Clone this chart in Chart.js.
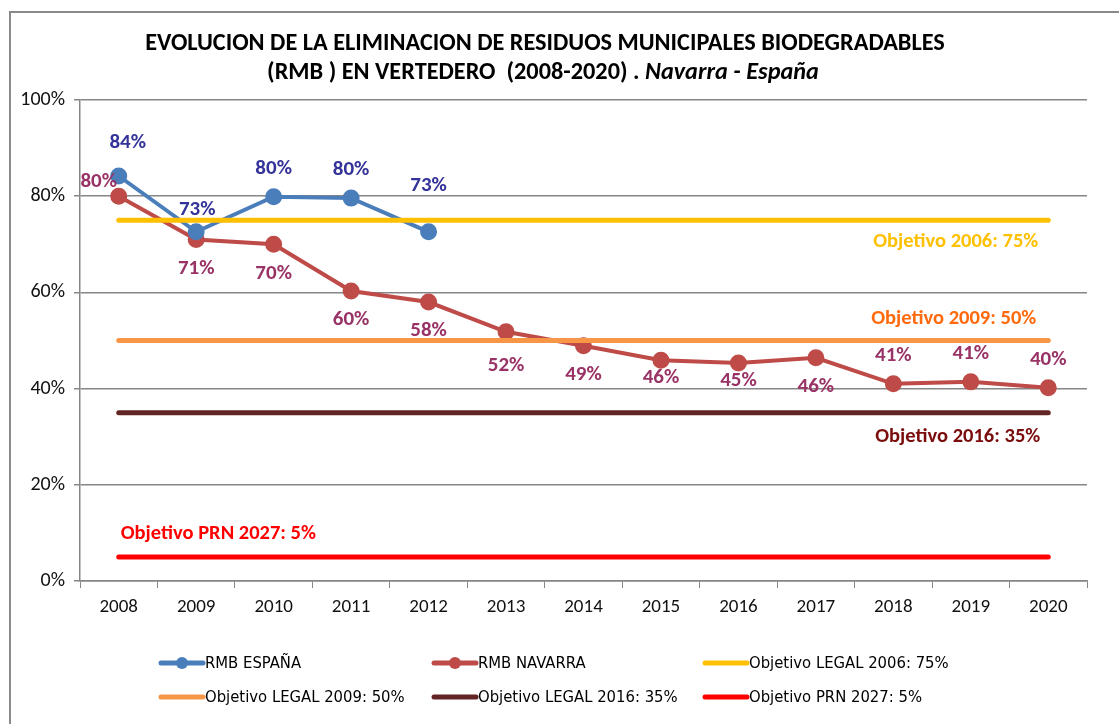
<!DOCTYPE html>
<html>
<head>
<meta charset="utf-8">
<script src="https://cdn.jsdelivr.net/npm/chart.js@4.4.1/dist/chart.umd.min.js"></script>
<style>
  html, body { margin: 0; padding: 0; background: #fff; }
  #wrap { position: relative; width: 1119px; height: 724px; overflow: hidden; }
  #frame { position: absolute; left: 9px; top: 11px; width: 1200px; height: 800px; border: 2px solid #8a8a8a; }
  #chart { position: absolute; left: 0; top: 0; }
</style>
</head>
<body>
<div id="wrap">
  <div id="frame"></div>
  <canvas id="chart" width="1119" height="724"></canvas>
</div>
<script>
// Data (percent of RMB sent to landfill)
const years = ['2008', '2009', '2010', '2011', '2012', '2013', '2014', '2015', '2016', '2017', '2018', '2019', '2020'];
const rmbEspana = [84.2, 72.6, 79.9, 79.6, 72.6, null, null, null, null, null, null, null, null];
const rmbNavarra = [80.0, 71.0, 70.0, 60.3, 58.0, 51.8, 48.9, 45.9, 45.3, 46.4, 41.0, 41.4, 40.2];
const objetivo2006 = [75, 75, 75, 75, 75, 75, 75, 75, 75, 75, 75, 75, 75];
const objetivo2009 = [50, 50, 50, 50, 50, 50, 50, 50, 50, 50, 50, 50, 50];
const objetivo2016 = [35, 35, 35, 35, 35, 35, 35, 35, 35, 35, 35, 35, 35];
const objetivoPrn2027 = [5, 5, 5, 5, 5, 5, 5, 5, 5, 5, 5, 5, 5];
const yTicks = [0, 20, 40, 60, 80, 100];

// where each value label sits relative to its point
const espanaLabelPos = ['aboveRight', 'aboveNear', 'above', 'above', 'high'];
const navarraLabelPos = ['left', 'below', 'below', 'below', 'below', 'belowFar', 'below', 'belowNear', 'belowNear', 'below', 'above', 'above', 'above'];

const FONT_FAMILY = 'Carlito, Lato, "Open Sans", sans-serif';
const LABEL_FONT = 'bold 21px ' + FONT_FAMILY;
const CAPTION_FONT = 'bold 20.5px ' + FONT_FAMILY;
const LEGEND_FONT = '16.5px "Liberation Sans Narrow", "DejaVu Sans Condensed", "Liberation Sans", sans-serif';

const offsets = {
  above: [0, -28], aboveNear: [1, -22], aboveRight: [9, -33], high: [0, -46],
  below: [0, 29], belowFar: [0, 34], belowNear: [0, 18], left: [-20, -14]
};

// value labels for the two RMB series
const valueLabels = {
  id: 'valueLabels',
  afterDatasetsDraw(chart) {
    const ctx = chart.ctx;
    ctx.save();
    ctx.font = LABEL_FONT;
    ctx.textAlign = 'center';
    ctx.textBaseline = 'middle';
    chart.data.datasets.forEach((ds, i) => {
      if (!ds.labelPos) return;
      const meta = chart.getDatasetMeta(i);
      ctx.fillStyle = ds.labelColor;
      meta.data.forEach((pt, j) => {
        const v = ds.data[j];
        if (v === null || v === undefined) return;
        const off = offsets[ds.labelPos[j]] || offsets.above;
        ctx.fillText(Math.round(v) + '%', pt.x + off[0], pt.y + off[1]);
      });
    });
    ctx.restore();
  }
};

// captions for the target lines
const targetCaptions = {
  id: 'targetCaptions',
  afterDatasetsDraw(chart) {
    const ctx = chart.ctx;
    const x = chart.scales.x, y = chart.scales.y;
    ctx.save();
    ctx.font = CAPTION_FONT;
    ctx.textBaseline = 'middle';
    chart.data.datasets.forEach(ds => {
      if (!ds.caption) return;
      const c = ds.caption;
      const px = x.getPixelForValue(c.index) + c.dx;
      const py = y.getPixelForValue(ds.data[c.index]) + c.dy;
      ctx.fillStyle = c.color;
      ctx.textAlign = c.align;
      ctx.fillText(c.text, px, py);
    });
    ctx.restore();
  }
};

// two-line title with the italic tail
const titlePlugin = {
  id: 'twoLineTitle',
  afterDraw(chart) {
    const ctx = chart.ctx;
    const line1 = 'EVOLUCION DE LA ELIMINACION DE RESIDUOS MUNICIPALES BIODEGRADABLES';
    const line2a = '(RMB ) EN VERTEDERO  (2008-2020) . ';
    const line2b = 'Navarra - España';
    ctx.save();
    let size = 19;
    ctx.font = 'bold ' + size + 'px ' + FONT_FAMILY;
    const w = ctx.measureText(line1).width;
    size = size * 800 / w;
    ctx.font = 'bold ' + size + 'px ' + FONT_FAMILY;
    ctx.fillStyle = '#000';
    ctx.textBaseline = 'middle';
    ctx.textAlign = 'center';
    ctx.fillText(line1, 545, 44);
    const wa = ctx.measureText(line2a).width;
    ctx.font = 'italic bold ' + size + 'px ' + FONT_FAMILY;
    const wb = ctx.measureText(line2b).width;
    const start = 543 - (wa + wb) / 2;
    ctx.textAlign = 'left';
    ctx.font = 'bold ' + size + 'px ' + FONT_FAMILY;
    ctx.fillText(line2a, start, 73);
    ctx.font = 'italic bold ' + size + 'px ' + FONT_FAMILY;
    ctx.fillText(line2b, start + wa, 73);
    ctx.restore();
  }
};

// legend laid out in three columns like the original
const gridLegend = {
  id: 'gridLegend',
  afterDraw(chart) {
    const ctx = chart.ctx;
    const cols = [159, 432, 703];
    const rows = [663, 697];
    ctx.save();
    ctx.font = LEGEND_FONT;
    ctx.textBaseline = 'middle';
    ctx.textAlign = 'left';
    chart.data.datasets.forEach((ds, i) => {
      const x0 = cols[i % 3], yy = rows[Math.floor(i / 3)];
      ctx.strokeStyle = ds.borderColor;
      ctx.lineWidth = 5;
      ctx.lineCap = 'round';
      ctx.beginPath();
      ctx.moveTo(x0 + 2, yy);
      ctx.lineTo(x0 + 44, yy);
      ctx.stroke();
      if (ds.pointRadius > 0) {
        ctx.fillStyle = ds.pointBackgroundColor;
        ctx.beginPath();
        ctx.arc(x0 + 23, yy, 6, 0, Math.PI * 2);
        ctx.fill();
      }
      ctx.fillStyle = '#000';
      ctx.fillText(ds.label, x0 + 46, yy + 1);
    });
    ctx.restore();
  }
};

function targetLine(label, data, color, caption) {
  return {
    label: label,
    data: data,
    borderColor: color,
    backgroundColor: color,
    borderWidth: 5,
    borderCapStyle: 'round',
    pointRadius: 0,
    pointHoverRadius: 0,
    fill: false,
    order: 0,
    caption: caption
  };
}

new Chart(document.getElementById('chart'), {
  type: 'line',
  data: {
    labels: years,
    datasets: [
      {
        label: 'RMB ESPAÑA',
        data: rmbEspana,
        borderColor: '#4a7ebb',
        backgroundColor: '#4a7ebb',
        pointBackgroundColor: '#4a7ebb',
        pointBorderColor: '#4a7ebb',
        borderWidth: 4,
        pointRadius: 6.5,
        tension: 0,
        spanGaps: false,
        order: 1,
        labelPos: espanaLabelPos,
        labelColor: '#333399'
      },
      {
        label: 'RMB NAVARRA',
        data: rmbNavarra,
        borderColor: '#be4b48',
        backgroundColor: '#be4b48',
        pointBackgroundColor: '#be4b48',
        pointBorderColor: '#be4b48',
        borderWidth: 4,
        pointRadius: 6.5,
        tension: 0,
        order: 1,
        labelPos: navarraLabelPos,
        labelColor: '#993366'
      },
      targetLine('Objetivo LEGAL 2006: 75%', objetivo2006, '#ffc000',
        { text: 'Objetivo 2006: 75%', index: 12, dx: -10, dy: 22, align: 'right', color: '#ffc000' }),
      targetLine('Objetivo LEGAL 2009: 50%', objetivo2009, '#f79646',
        { text: 'Objetivo 2009: 50%', index: 12, dx: -12, dy: -22, align: 'right', color: '#ff6a0d' }),
      targetLine('Objetivo LEGAL 2016: 35%', objetivo2016, '#632523',
        { text: 'Objetivo 2016: 35%', index: 12, dx: -8, dy: 24, align: 'right', color: '#7a0c0c' }),
      targetLine('Objetivo PRN 2027: 5%', objetivoPrn2027, '#ff0000',
        { text: 'Objetivo PRN 2027: 5%', index: 0, dx: 2, dy: -23, align: 'left', color: '#ff0000' })
    ]
  },
  options: {
    responsive: false,
    animation: false,
    layout: { padding: { top: 100, left: 10, right: 32, bottom: 103 } },
    plugins: {
      legend: { display: false },
      title: { display: false },
      tooltip: { enabled: false }
    },
    scales: {
      x: {
        offset: true,
        grid: { offset: true, drawOnChartArea: false, color: '#868686', tickLength: 7 },
        border: { color: '#868686', width: 1.5 },
        ticks: { color: '#111', padding: 8, font: { family: FONT_FAMILY, size: 19 } },
        afterFit(scale) { scale.height = 40; }
      },
      y: {
        min: 0,
        max: 100,
        afterBuildTicks(scale) { scale.ticks = yTicks.map(v => ({ value: v })); },
        grid: { color: '#868686', lineWidth: 1.5, tickLength: 6 },
        border: { color: '#868686', width: 1.5 },
        ticks: {
          color: '#111',
          padding: 9,
          font: { family: FONT_FAMILY, size: 20 },
          callback: v => v + '%'
        },
        afterFit(scale) { scale.width = 70; }
      }
    }
  },
  plugins: [valueLabels, targetCaptions, titlePlugin, gridLegend]
});
</script>
</body>
</html>
